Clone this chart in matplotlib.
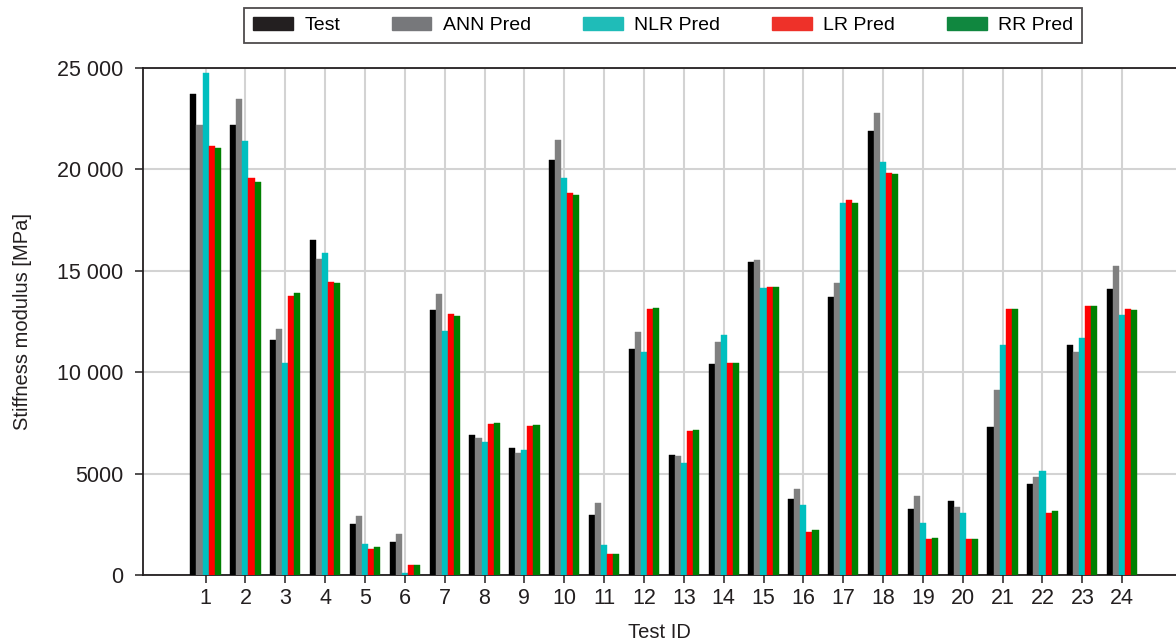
import numpy as np
import matplotlib
matplotlib.use("Agg")
import matplotlib.pyplot as plt
from matplotlib.patches import Patch
from matplotlib.ticker import FuncFormatter

plt.rcParams["font.family"] = ["Liberation Sans", "DejaVu Sans"]

# --- DATA ---
test_ids = np.arange(1, 25)
series_names = ["Test", "ANN Pred", "NLR Pred", "LR Pred", "RR Pred"]

test = [23700, 22200, 11600, 16500, 2500, 1650, 13050, 6900, 6250, 20450, 2950, 11150,
        5900, 10400, 15450, 3750, 13700, 21900, 3250, 3650, 7300, 4500, 11350, 14100]
ann = [22200, 23450, 12150, 15600, 2900, 2000, 13850, 6750, 6000, 21450, 3550, 12000,
       5850, 11500, 15550, 4250, 14400, 22800, 3900, 3350, 9100, 4850, 11000, 15250]
nlr = [24750, 21400, 10450, 15900, 1550, 100, 12050, 6550, 6150, 19550, 1500, 11000,
       5500, 11850, 14150, 3450, 18350, 20350, 2550, 3050, 11350, 5150, 11700, 12800]
lr = [21150, 19550, 13750, 14450, 1300, 500, 12850, 7450, 7350, 18850, 1050, 13100,
      7100, 10450, 14200, 2100, 18500, 19800, 1750, 1750, 13100, 3050, 13250, 13100]
rr = [21050, 19400, 13900, 14400, 1400, 500, 12750, 7500, 7400, 18750, 1050, 13150,
      7150, 10450, 14200, 2200, 18350, 19750, 1800, 1750, 13100, 3150, 13250, 13050]

values = [test, ann, nlr, lr, rr]
bar_colors = ["#000000", "#808080", "#00bfbf", "#ff0000", "#008000"]
legend_colors = ["#231f20", "#77787b", "#1fbcb8", "#ee3129", "#10873f"]

# --- PLOT ---
fig = plt.figure(figsize=(11.76, 6.43), dpi=100)
ax = fig.add_axes([0.1216, 0.1058, 0.8784, 0.7885])

w = 0.152
for i, (vals, col) in enumerate(zip(values, bar_colors)):
    ax.bar(test_ids + (i - 2) * w, vals, width=w, color=col,
           edgecolor=col, linewidth=0.3, zorder=3)

ax.set_xlim(-0.57, 25.35)
ax.set_ylim(0, 25000)
ax.set_xticks(test_ids)
ax.set_yticks(np.arange(0, 25001, 5000))


def fmt(v, pos):
    v = int(v)
    if v >= 10000:
        return f"{v:,}".replace(",", " ")
    return str(v)


ax.yaxis.set_major_formatter(FuncFormatter(fmt))

ax.grid(True, color="#d3d3d3", linewidth=1.5, zorder=0)
ax.set_axisbelow(True)
ax.spines["right"].set_visible(False)
for s in ["left", "bottom", "top"]:
    ax.spines[s].set_linewidth(1.3)
    ax.spines[s].set_color("#231f20")

ax.tick_params(axis="both", labelsize=15.5, length=6, width=1.1,
               colors="#231f20", direction="out")
ax.tick_params(axis="y", pad=8)
ax.set_xlabel("Test ID", fontsize=14.5, color="#231f20", labelpad=10)
ax.set_ylabel("Stiffness modulus [MPa]", fontsize=14.5, color="#231f20", labelpad=18)

handles = [Patch(facecolor=c, edgecolor=c) for c in legend_colors]
leg = fig.legend(handles, series_names, loc="center", bbox_to_anchor=(0.5638, 0.96),
                 ncol=5, fontsize=14, frameon=True, fancybox=False,
                 handlelength=2.05, handleheight=0.67, handletextpad=0.6,
                 columnspacing=2.65, borderpad=0.45)
leg.get_frame().set_edgecolor("#231f20")
leg.get_frame().set_linewidth(1.3)

fig.savefig("out.png", dpi=100)
